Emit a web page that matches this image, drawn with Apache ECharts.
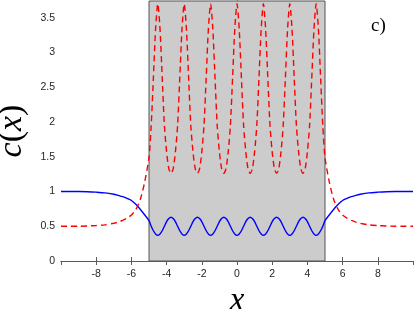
<!DOCTYPE html>
<html><head><meta charset="utf-8">
<script src="https://cdn.jsdelivr.net/npm/echarts@6/dist/echarts.min.js"></script>
<style>html,body{margin:0;padding:0;background:#fff}#c{width:415px;height:309px}</style>
</head><body><div id="c"></div>
<script>
// sample positions (x)
var xs = [-10,-9.5,-9,-8.5,-8,-7.5,-7,-6.75,-6.5,-6.25,-6,-5.75,-5.5,-5.25,
 -5,-4.875,-4.75,-4.625,-4.5,-4.375,-4.25,-4.125,-4,-3.875,-3.75,-3.625,
 -3.5,-3.375,-3.25,-3.125,-3,-2.875,-2.75,-2.625,-2.5,-2.375,-2.25,-2.125,
 -2,-1.875,-1.75,-1.625,-1.5,-1.375,-1.25,-1.125,-1,-0.875,-0.75,-0.625,
 -0.5,-0.375,-0.25,-0.125,0,0.125,0.25,0.375,0.5,0.625,0.75,0.875,
 1,1.125,1.25,1.375,1.5,1.625,1.75,1.875,2,2.125,2.25,2.375,
 2.5,2.625,2.75,2.875,3,3.125,3.25,3.375,3.5,3.625,3.75,3.875,
 4,4.125,4.25,4.375,4.5,4.625,4.75,4.875,5,
 5.25,5.5,5.75,6,6.25,6.5,6.75,7,7.5,8,8.5,9,9.5,10];
// blue solid curve values
var blueC = [1,1,1,0.997,0.99,0.98,0.96,0.945,0.925,0.9,0.87,0.815,0.745,0.665,
 0.58,
 0.5,0.435,0.39,0.37,0.39,0.435,0.5,0.565,0.61,0.63,0.61,0.565,
 0.5,0.435,0.39,0.37,0.39,0.435,0.5,0.565,0.61,0.63,0.61,0.565,
 0.5,0.435,0.39,0.37,0.39,0.435,0.5,0.565,0.61,0.63,0.61,0.565,
 0.5,0.435,0.39,0.37,0.39,0.435,0.5,0.565,0.61,0.63,0.61,0.565,
 0.5,0.435,0.39,0.37,0.39,0.435,0.5,0.565,0.61,0.63,0.61,0.565,
 0.5,0.435,0.39,0.37,0.39,0.435,0.5,0.565,0.61,0.63,0.61,0.565,
 0.5,0.435,0.39,0.37,0.39,0.435,0.5,
 0.58,
 0.665,0.745,0.815,0.87,0.9,0.925,0.945,0.96,0.98,0.99,0.997,1,1,1];
// red dashed curve values
var redC = [0.5,0.5,0.5,0.503,0.51,0.52,0.543,0.56,0.584,0.617,0.66,0.74,0.88,1.13,
 1.49,
 1.95,2.64,3.34,3.7,3.34,2.64,1.95,1.57,1.33,1.26,1.33,1.57,
 1.95,2.64,3.34,3.7,3.34,2.64,1.95,1.57,1.33,1.26,1.33,1.57,
 1.95,2.64,3.34,3.7,3.34,2.64,1.95,1.57,1.33,1.26,1.33,1.57,
 1.95,2.64,3.34,3.7,3.34,2.64,1.95,1.57,1.33,1.26,1.33,1.57,
 1.95,2.64,3.34,3.7,3.34,2.64,1.95,1.57,1.33,1.26,1.33,1.57,
 1.95,2.64,3.34,3.7,3.34,2.64,1.95,1.57,1.33,1.26,1.33,1.57,
 1.95,2.64,3.34,3.7,3.34,2.64,1.95,
 1.49,
 1.13,0.88,0.74,0.66,0.617,0.584,0.56,0.543,0.52,0.51,0.503,0.5,0.5,0.5];
var shadeRange = [-5, 5];
var panelLabel = 'c)';

var chart = echarts.init(document.getElementById('c'), null, {renderer:'canvas'});
function pairs(v){ return xs.map(function(x,i){ return [x, v[i]]; }); }
var axisCol = '#5a5a5a';
var tickFont = {color:'#262626', fontSize:10.5, fontFamily:'Liberation Sans'};
chart.setOption({
  animation:false,
  grid:{left:61, right:2, top:1, bottom:48, containLabel:false, outerBoundsMode:'none'},
  xAxis:[
    {type:'value', min:-10, max:10, interval:2, position:'bottom',
     name:'x', nameLocation:'middle', nameGap:15,
     nameTextStyle:{fontFamily:'Liberation Serif', fontStyle:'italic', fontSize:33, color:'#000'},
     axisLine:{lineStyle:{color:axisCol, width:1}},
     axisTick:{inside:true, length:4, lineStyle:{color:axisCol}},
     axisLabel:Object.assign({margin:8, showMinLabel:false, showMaxLabel:false}, tickFont),
     splitLine:{show:false}},
    {type:'value', min:-10, max:10, interval:2, position:'top',
     axisLine:{lineStyle:{color:axisCol, width:1}},
     axisTick:{inside:true, length:4, lineStyle:{color:axisCol}},
     axisLabel:{show:false}, splitLine:{show:false}}
  ],
  yAxis:[
    {type:'value', min:0, max:3.74, interval:0.5, position:'left',
     name:'{i|c}{n|(}{i|x}{n|)}', nameLocation:'middle', nameGap:26, nameRotate:90,
     nameTextStyle:{rich:{
       i:{fontFamily:'Liberation Serif', fontStyle:'italic', fontSize:34, color:'#000'},
       n:{fontFamily:'Liberation Serif', fontSize:34, color:'#000'}}},
     axisLine:{lineStyle:{color:axisCol, width:1}},
     axisTick:{inside:true, length:4, lineStyle:{color:axisCol}},
     axisLabel:Object.assign({margin:6, showMaxLabel:false}, tickFont),
     splitLine:{show:false}},
    {type:'value', min:0, max:3.74, interval:0.5, position:'right',
     axisLine:{show:true, lineStyle:{color:axisCol, width:1}},
     axisTick:{show:true, inside:true, length:4, lineStyle:{color:axisCol}},
     axisLabel:{show:false}, splitLine:{show:false}}
  ],
  graphic:[
    {type:'text', left:371, top:17, style:{text:panelLabel, font:'19px "Liberation Serif"', fill:'#000'}}
  ],
  series:[
    {type:'line', data:pairs(blueC), showSymbol:false, smooth:0.25, z:3,
     lineStyle:{color:'#0000ff', width:1.4},
     markArea:{silent:true, itemStyle:{color:'#cccccc', borderColor:'#555', borderWidth:1},
       data:[[{xAxis:shadeRange[0]},{xAxis:shadeRange[1]}]]}},
    {type:'line', data:pairs(redC), showSymbol:false, smooth:0.25, z:4,
     lineStyle:{color:'#ff0000', width:1.4, type:[6,4]}}
  ]
});
</script></body></html>
